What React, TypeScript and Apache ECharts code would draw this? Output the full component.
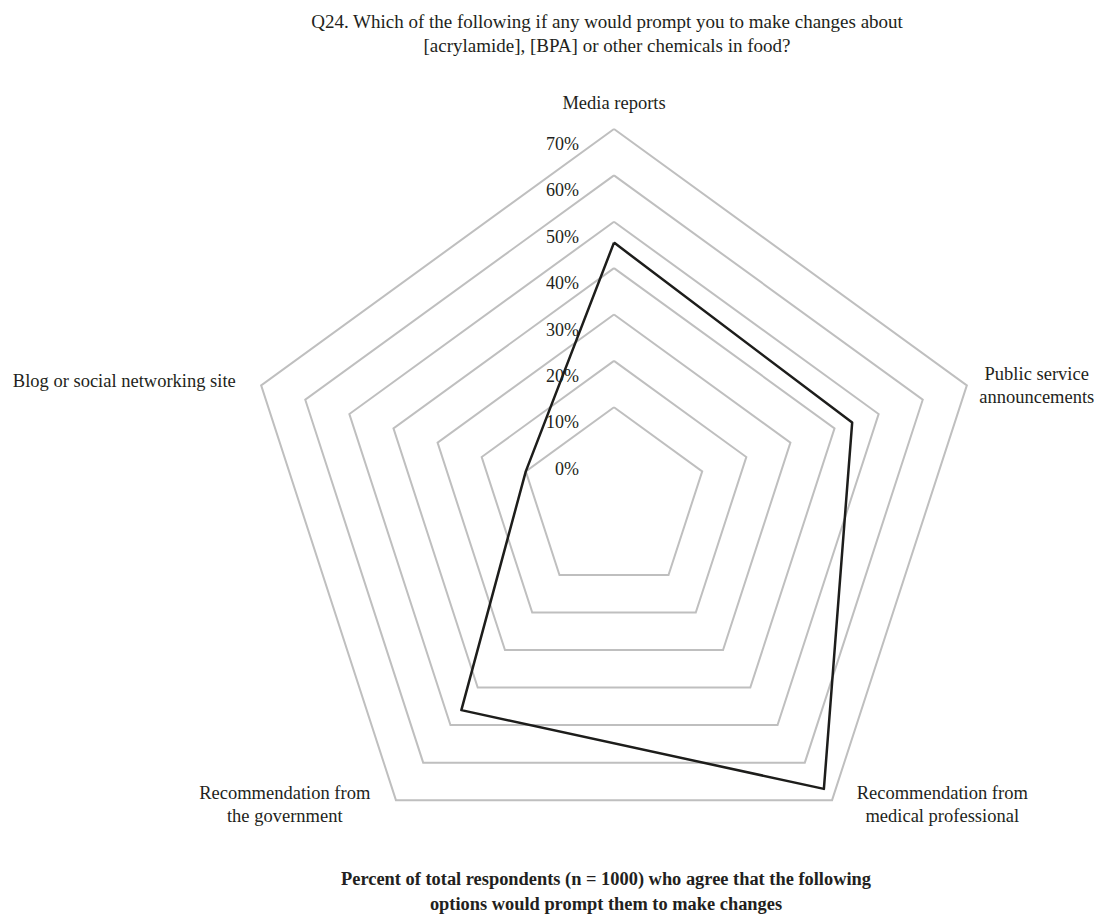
import React, { useEffect, useRef } from "react";
import * as echarts from "echarts";

// Indicator order follows ECharts radar placement (top, then counter-clockwise)
const categories = [
  "Media reports",
  "Blog or social networking site",
  "Recommendation from\nthe government",
  "Recommendation from\nmedical professional",
  "Public service\nannouncements",
];
const agreePct = [45.5, 10, 46, 67, 44];
const axisMin = -10;
const axisMax = 70;
const axisSplits = 8;

const titleText =
  "Q24. Which of the following if any would prompt you to make changes about\n[acrylamide], [BPA] or other chemicals in food?";
const captionText =
  "Percent of total respondents (n = 1000) who agree that the following\noptions would prompt them to make changes";

const FONT = '"Liberation Serif", "Times New Roman", serif';
const TEXT = "#231f20";
const RING = "#bfbfbf";

const nameKeys = [["top"], ["ul"], ["ll1", "ll2"], ["lr1", "lr2"], ["ur1", "ur2"]];

export default function App() {
  const ref = useRef<HTMLDivElement>(null);
  useEffect(() => {
    document.body.style.margin = "0";
    document.body.style.overflow = "hidden";
    if (!ref.current) return;
    const chart = echarts.init(ref.current, undefined, { renderer: "svg" });
    const base = { fontFamily: FONT, fontSize: 18.5, color: TEXT, align: "center" };
    const rich: any = {
      top: { ...base, padding: [0, 0, 4, 0] },
      ul: { ...base, padding: [0, 13, 0, 0] },
      ll1: { ...base, padding: [0, 18, 2, 0] },
      ll2: { ...base, padding: [2, 18, 12, 0] },
      lr1: { ...base, padding: [0, 0, 2, 17] },
      lr2: { ...base, padding: [2, 0, 12, 17] },
      ur1: { ...base, padding: [8, 0, 2, 0] },
      ur2: { ...base, padding: [2, 0, 0, 0] },
    };
    const ringColors = ["rgba(0,0,0,0)", "rgba(0,0,0,0)"];
    for (let i = 2; i <= axisSplits; i++) ringColors.push(RING);

    chart.setOption({
      animation: false,
      backgroundColor: "#ffffff",
      title: [
        {
          text: titleText,
          left: 607,
          top: 9,
          padding: 0,
          textAlign: "center",
          textStyle: { fontFamily: FONT, fontSize: 19, fontWeight: "normal", lineHeight: 24, color: TEXT },
        },
        {
          text: captionText,
          left: 606,
          top: 866,
          padding: 0,
          textAlign: "center",
          textStyle: { fontFamily: FONT, fontSize: 18.4, fontWeight: "bold", lineHeight: 25, color: TEXT },
        },
      ],
      radar: {
        center: [614, 500],
        radius: 371,
        startAngle: 90,
        shape: "polygon",
        splitNumber: axisSplits,
        nameGap: 13,
        indicator: categories.map((name, i) => {
          const ind: any = { name, min: axisMin, max: axisMax };
          if (i === 0) {
            ind.axisLabel = {
              show: true,
              margin: 35,
              fontFamily: FONT,
              fontSize: 18,
              lineHeight: 18,
              color: TEXT,
              verticalAlign: "top",
              padding: [6, 0, 0, 0],
              formatter: (v: number) => (v < 0 ? "" : `${Math.round(v)}%`),
            };
          }
          return ind;
        }),
        axisName: {
          fontFamily: FONT,
          fontSize: 18.5,
          color: TEXT,
          rich,
          formatter: (name: string) => {
            const i = categories.indexOf(name);
            return name
              .split("\n")
              .map((ln, j) => `{${nameKeys[i][j]}|${ln}}`)
              .join("\n");
          },
        },
        axisLine: { show: false },
        axisTick: { show: false },
        axisLabel: { show: false },
        splitArea: { show: false },
        splitLine: { show: true, lineStyle: { color: ringColors, width: 2 } },
      },
      series: [
        {
          type: "radar",
          symbol: "none",
          silent: true,
          data: [
            {
              value: agreePct,
              name: "Agree",
              lineStyle: { color: "#1d1d1b", width: 2.5 },
            },
          ],
        },
      ],
    });
    return () => chart.dispose();
  }, []);
  return <div ref={ref} style={{ width: 1108, height: 914 }} />;
}
